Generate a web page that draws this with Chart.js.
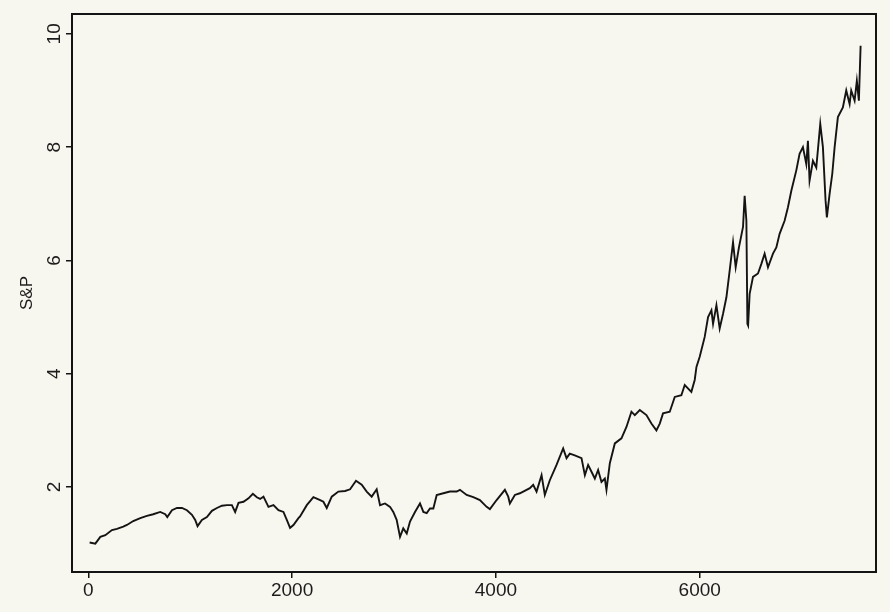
<!DOCTYPE html>
<html>
<head>
<meta charset="utf-8">
<script src="https://cdn.jsdelivr.net/npm/chart.js@4.4.1/dist/chart.umd.min.js"></script>
<style>
  html, body { margin: 0; padding: 0; background: #f8f7ef; }
  #wrap { width: 890px; height: 612px; }
</style>
</head>
<body>
<div id="wrap"><canvas id="mycanvas" width="890" height="612"></canvas></div>
<script>
var days = [13, 69, 118, 167, 232, 281, 343, 379, 441, 510, 575, 637, 706, 755, 775, 821, 870, 919, 968, 1017,
	1049, 1072, 1115, 1164, 1213, 1262, 1311, 1360, 1409, 1441, 1474, 1523, 1572, 1615, 1654, 1686, 1719, 1768, 1817, 1866,
	1915, 1948, 1980, 2013, 2062, 2078, 2144, 2209, 2275, 2307, 2340, 2389, 2454, 2520, 2569, 2627, 2683, 2732, 2781, 2830,
	2863, 2912, 2961, 2993, 3026, 3059, 3091, 3125, 3157, 3206, 3255, 3288, 3321, 3353, 3386, 3419, 3484, 3549, 3615, 3647,
	3713, 3778, 3843, 3909, 3941, 4007, 4088, 4121, 4137, 4186, 4235, 4268, 4333, 4366, 4399, 4448, 4480, 4529, 4595, 4660,
	4693, 4725, 4774, 4840, 4873, 4905, 4938, 4971, 5003, 5036, 5069, 5085, 5118, 5167, 5232, 5281, 5330, 5363, 5412, 5477,
	5526, 5575, 5608, 5640, 5706, 5755, 5820, 5853, 5918, 5951, 5968, 6000, 6049, 6082, 6115, 6131, 6164, 6196, 6229, 6262,
	6294, 6327, 6353, 6385, 6425, 6441, 6458, 6468, 6475, 6490, 6523, 6572, 6605, 6637, 6670, 6719, 6752, 6784, 6833, 6866,
	6899, 6948, 6980, 7013, 7046, 7062, 7078, 7111, 7144, 7183, 7209, 7235, 7248, 7275, 7301, 7324, 7356, 7405, 7438, 7471,
	7487, 7520, 7542, 7562, 7579];
var sp = [1.02, 1.00, 1.12, 1.15, 1.24, 1.26, 1.30, 1.33, 1.40, 1.45, 1.49, 1.52, 1.56, 1.52, 1.47, 1.59, 1.63, 1.63, 1.59, 1.51,
	1.42, 1.31, 1.42, 1.47, 1.58, 1.63, 1.67, 1.68, 1.68, 1.56, 1.72, 1.74, 1.80, 1.88, 1.82, 1.79, 1.83, 1.65, 1.68, 1.59,
	1.56, 1.42, 1.28, 1.33, 1.45, 1.48, 1.68, 1.82, 1.77, 1.74, 1.63, 1.83, 1.92, 1.93, 1.96, 2.11, 2.04, 1.92, 1.83, 1.96,
	1.68, 1.71, 1.65, 1.56, 1.42, 1.12, 1.27, 1.18, 1.39, 1.56, 1.71, 1.56, 1.54, 1.62, 1.62, 1.86, 1.89, 1.92, 1.92, 1.95,
	1.86, 1.82, 1.77, 1.65, 1.61, 1.77, 1.95, 1.83, 1.71, 1.86, 1.89, 1.92, 1.98, 2.04, 1.92, 2.21, 1.86, 2.12, 2.39, 2.68,
	2.51, 2.59, 2.56, 2.51, 2.21, 2.39, 2.27, 2.15, 2.30, 2.09, 2.15, 1.95, 2.42, 2.77, 2.86, 3.06, 3.33, 3.27, 3.36, 3.27,
	3.12, 3.00, 3.12, 3.30, 3.33, 3.59, 3.62, 3.80, 3.68, 3.89, 4.12, 4.30, 4.65, 5.00, 5.12, 4.88, 5.21, 4.80, 5.06, 5.35,
	5.82, 6.32, 5.88, 6.23, 6.59, 7.14, 6.70, 4.88, 4.85, 5.41, 5.71, 5.77, 5.94, 6.12, 5.88, 6.12, 6.23, 6.47, 6.70, 6.94,
	7.23, 7.59, 7.88, 8.00, 7.70, 8.11, 7.41, 7.76, 7.64, 8.41, 8.00, 7.06, 6.76, 7.18, 7.53, 8.00, 8.53, 8.70, 9.00, 8.76,
	9.00, 8.82, 9.17, 8.82, 9.79];

var xTicks = [0, 2000, 4000, 6000];
var yTicks = [2, 4, 6, 8, 10];

var points = [];
for (var i in days) {
	points.push({x: days[i], y: sp[i]});
}

var ink = '#141414';
var font = { family: 'Liberation Sans, Arial, sans-serif', size: 19 };

// closed box round the plot region
var boxPlugin = {
	id: 'box',
	afterDraw: function(chart) {
		var a = chart.chartArea;
		var c = chart.ctx;
		c.save();
		c.strokeStyle = ink;
		c.lineWidth = 2;
		c.strokeRect(a.left, a.top, a.right - a.left, a.bottom - a.top);
		c.restore();
	}
};

var ctx = document.getElementById('mycanvas');

var lineGraph = new Chart(ctx, {
	type: 'line',
	data: {
		datasets: [{
			label: 'S&P',
			data: points,
			borderColor: ink,
			borderWidth: 1.9,
			pointRadius: 0,
			tension: 0,
			fill: false
		}]
	},
	options: {
		responsive: false,
		animation: false,
		layout: { padding: { top: 14, right: 14, left: 0, bottom: 0 } },
		plugins: {
			legend: { display: false },
			tooltip: { enabled: false }
		},
		scales: {
			x: {
				type: 'linear',
				min: -160,
				max: 7730,
				afterBuildTicks: function(axis) {
					axis.ticks = xTicks.map(function(v) { return {value: v}; });
				},
				afterFit: function(axis) { axis.height = 40; },
				grid: { drawOnChartArea: false, tickLength: 6, color: ink, lineWidth: 1.5 },
				border: { display: true, color: ink, width: 2 },
				ticks: {
					color: '#1c1c1c',
					padding: 1,
					maxRotation: 0,
					font: font,
					callback: function(v) { return String(v); }
				}
			},
			y: {
				min: 0.5,
				max: 10.35,
				afterBuildTicks: function(axis) {
					axis.ticks = yTicks.map(function(v) { return {value: v}; });
				},
				afterFit: function(axis) { axis.width = 72; },
				grid: { drawOnChartArea: false, tickLength: 6, color: ink, lineWidth: 1.5 },
				border: { display: true, color: ink, width: 2 },
				ticks: {
					color: '#1c1c1c',
					padding: 1,
					minRotation: 90,
					maxRotation: 90,
					crossAlign: 'center',
					font: font,
					callback: function(v) { return String(v); }
				},
				title: {
					display: true,
					text: 'S&P',
					color: '#1c1c1c',
					padding: { top: 17, bottom: 0 },
					font: { family: 'Liberation Sans, Arial, sans-serif', size: 17 }
				}
			}
		}
	},
	plugins: [boxPlugin]
});
</script>
</body>
</html>
